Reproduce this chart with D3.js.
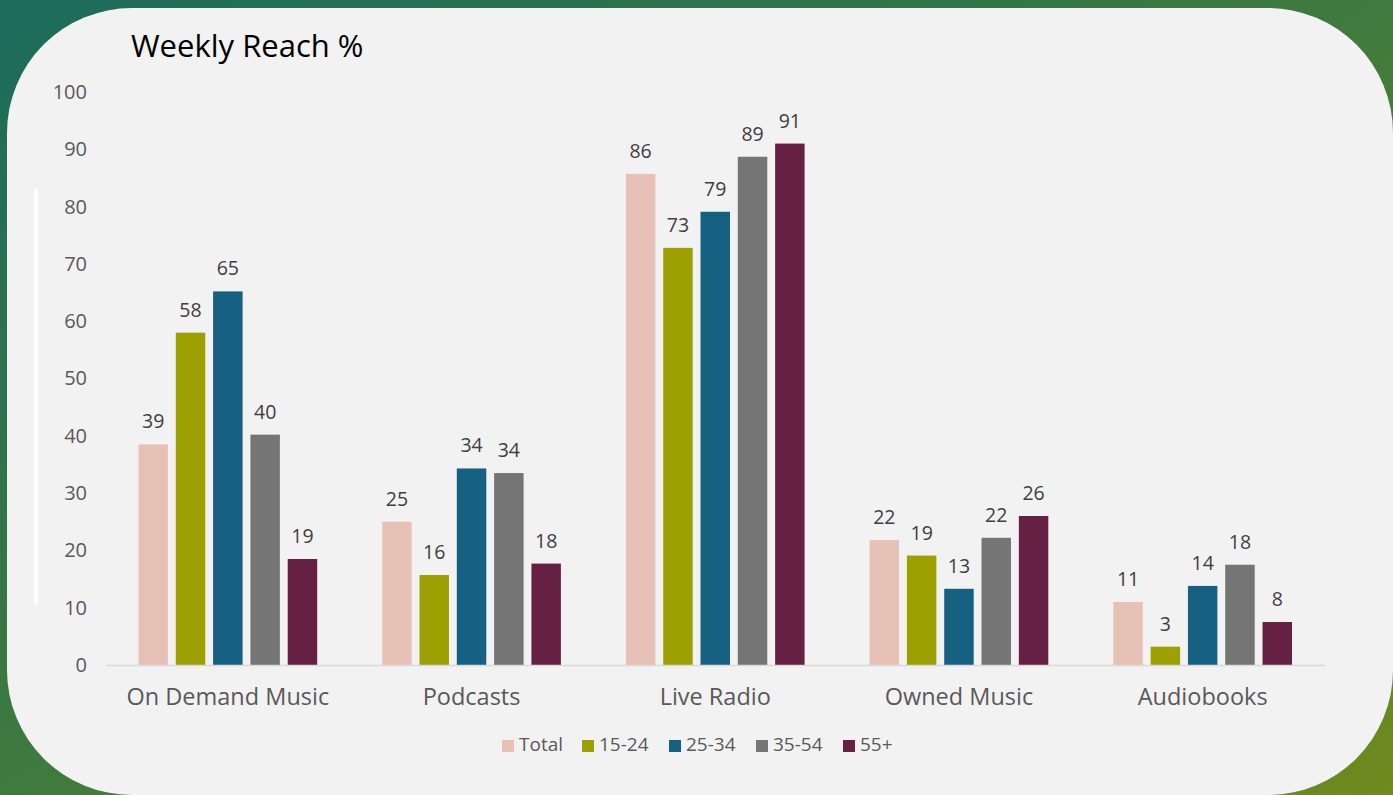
<!DOCTYPE html>
<html>
<head>
<meta charset="utf-8">
<script src="https://cdn.jsdelivr.net/npm/d3@7"></script>
<style>
  html, body { margin: 0; padding: 0; background: #2f7350; }
  svg { display: block; }
  text { font-family: "Open Sans", "Noto Sans", sans-serif; }
</style>
</head>
<body>
<svg id="chart" width="1393" height="795"></svg>
<script>
// ---- data ----
const categories = ["On Demand Music", "Podcasts", "Live Radio", "Owned Music", "Audiobooks"];
const seriesNames = ["Total", "15-24", "25-34", "35-54", "55+"];
const totalValues = [38.5, 25.0, 85.7, 21.8, 11.0];
const age1524Values = [58.0, 15.7, 72.8, 19.1, 3.2];
const age2534Values = [65.2, 34.3, 79.1, 13.3, 13.8];
const age3554Values = [40.2, 33.5, 88.7, 22.2, 17.5];
const age55Values = [18.5, 17.7, 91.0, 26.0, 7.5];
const yTicks = [0, 10, 20, 30, 40, 50, 60, 70, 80, 90, 100];
const chartTitle = "Weekly Reach %";

const seriesValues = [totalValues, age1524Values, age2534Values, age3554Values, age55Values];
const colors = ["#e8c1b6", "#9ca000", "#166082", "#757575", "#652044"];

const svg = d3.select("#chart");
const W = 1393, H = 795;

// background gradient
const defs = svg.append("defs");
const grad = defs.append("linearGradient").attr("id", "bg")
  .attr("x1", "0").attr("y1", "0").attr("x2", "1").attr("y2", "1");
grad.append("stop").attr("offset", "0%").attr("stop-color", "#1b6b5c");
grad.append("stop").attr("offset", "50%").attr("stop-color", "#3f7a3e");
grad.append("stop").attr("offset", "100%").attr("stop-color", "#6f8a1e");
svg.append("rect").attr("width", W).attr("height", H).attr("fill", "url(#bg)");

// panel
svg.append("rect").attr("x", 7).attr("y", 8).attr("width", 1386).attr("height", 787)
  .attr("rx", 125).attr("ry", 125).attr("fill", "#f2f2f2");

// white decorative line
svg.append("line").attr("x1", 36).attr("x2", 36).attr("y1", 188).attr("y2", 605)
  .attr("stroke", "#ffffff").attr("stroke-width", 3);

// title
svg.append("text").attr("x", 131).attr("y", 57).attr("font-size", 31)
  .attr("fill", "#000").text(chartTitle);

// scales
const y = d3.scaleLinear().domain([0, 100]).range([665, 92]);
const x0 = d3.scaleBand().domain(categories).range([106, 1324.5])
  .paddingInner(0.2667).paddingOuter(0.1333);
const x1 = d3.scaleBand().domain(seriesNames).range([0, x0.bandwidth()])
  .paddingInner(0.21).paddingOuter(0);

// y axis
const yAxis = svg.append("g").attr("transform", "translate(87,0)")
  .call(d3.axisLeft(y).tickValues(yTicks).tickSize(0).tickPadding(0));
yAxis.select(".domain").remove();
yAxis.selectAll("text").attr("font-size", 20).attr("fill", "#595959")
  .attr("font-family", "Open Sans, sans-serif");

// bars
const groups = svg.append("g").selectAll("g").data(categories).join("g")
  .attr("transform", d => `translate(${x0(d)},0)`);

groups.each(function(cat, ci) {
  const g = d3.select(this);
  const rows = seriesNames.map((s, si) => ({ s, si, v: seriesValues[si][ci] }));
  g.selectAll("rect").data(rows).join("rect")
    .attr("x", d => x1(d.s)).attr("width", x1.bandwidth())
    .attr("y", d => y(d.v)).attr("height", d => y(0) - y(d.v))
    .attr("fill", d => colors[d.si]);
  g.selectAll("text").data(rows).join("text")
    .attr("x", d => x1(d.s) + x1.bandwidth() / 2)
    .attr("y", d => y(d.v) - 16)
    .attr("text-anchor", "middle").attr("font-size", 19.5).attr("fill", "#404040")
    .text(d => Math.round(d.v));
});

// x axis
const xAxis = svg.append("g").attr("transform", `translate(0,${y(0)})`)
  .call(d3.axisBottom(d3.scaleBand().domain(categories).range([106, 1324.5]))
    .tickSize(0).tickSizeOuter(0).tickPadding(0));
xAxis.select(".domain").attr("stroke", "#d9d9d9").attr("stroke-width", 1.5);
xAxis.selectAll("text").attr("font-size", 23.5).attr("fill", "#595959")
  .attr("dy", null).attr("y", 40).attr("font-family", "Open Sans, sans-serif");

// legend
const legendX = [502, 582, 669, 756, 843];
const legend = svg.append("g").selectAll("g").data(seriesNames).join("g")
  .attr("transform", (d, i) => `translate(${legendX[i]},740)`);
legend.append("rect").attr("width", 12).attr("height", 12).attr("fill", (d, i) => colors[i]);
legend.append("text").attr("x", 17).attr("y", 11).attr("font-size", 19)
  .attr("fill", "#595959").text(d => d);
</script>
</body>
</html>
